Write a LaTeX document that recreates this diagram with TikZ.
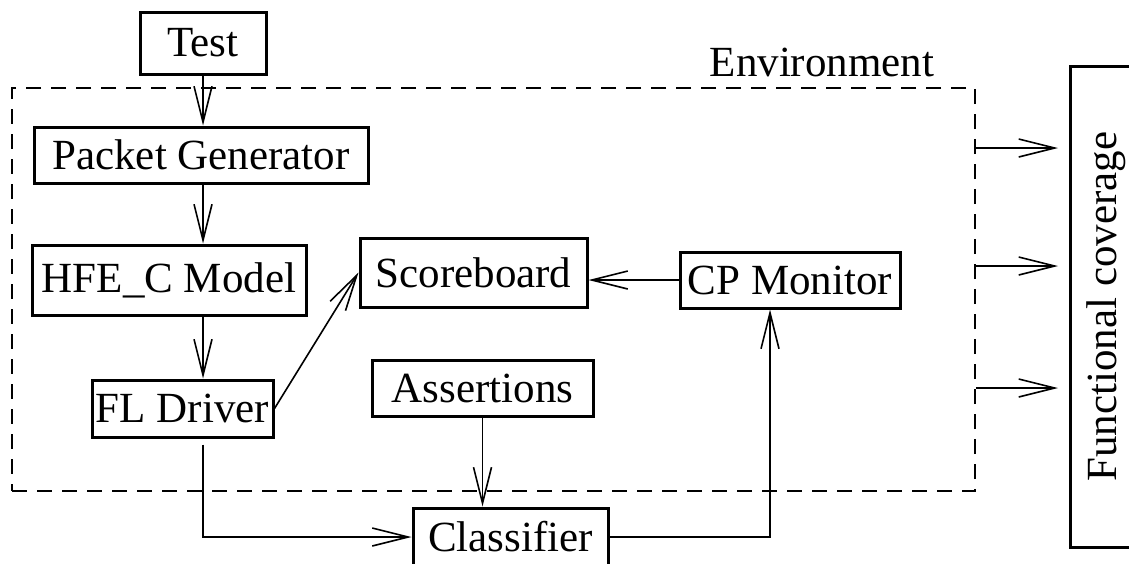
\documentclass[tikz,border=0pt]{standalone}
\usepackage{fontspec}
\setmainfont{Liberation Serif}
\usetikzlibrary{arrows.meta,calc}
\begin{document}
\begin{tikzpicture}[x=0.5pt,y=-0.5pt,
    block/.style={draw,line width=1.5pt,inner sep=0pt,font=\fontsize{21.5}{26}\selectfont},
    link/.style={line width=0.8pt,-{Straight Barb[length=18pt,width=9pt,line width=0.8pt]}}]
  \useasboundingbox (0,0) rectangle (1129,563);
  % environment frame
  \node[draw,dashed,line width=0.8pt,dash pattern=on 7.5pt off 5pt,inner sep=0pt,
    minimum width=481.5pt,minimum height=201.5pt] (env) at (493.5,289.5) {};
  \node[font=\fontsize{21.5}{26}\selectfont] (envlabel) at (822,62) {Environment};
  % blocks
  \draw
    (203,43) node[block,minimum width=63pt,minimum height=31pt] (test) {Test}
    (201,155) node[block,minimum width=167pt,minimum height=28pt] (packet) {Packet Generator}
    (169,280) node[block,minimum width=137pt,minimum height=35pt] (hfe) {HFE\_C Model}
    (182.5,408.5) node[block,minimum width=90.5pt,minimum height=28.5pt] (fld) {FL Driver}
    (473.5,272.5) node[block,minimum width=113.5pt,minimum height=34.5pt] (score) {Scoreboard}
    (790,280) node[block,minimum width=110pt,minimum height=28pt] (cpmon) {CP Monitor}
    (482.5,388) node[block,minimum width=110.5pt,minimum height=28pt] (assert) {Assertions}
    (510.5,537) node[block,minimum width=97.5pt,minimum height=29pt] (classifier) {Classifier};
  % coverage box, cut off by the right edge
  \node[rotate=90,font=\fontsize{21.5}{26}\selectfont] (funcov) at (1106,306.5) {Functional coverage};
  \coordinate (covin) at (1070,306.5);
  \draw[line width=1.5pt] (1300,66) -| (1070,547) -- (1300,547);
  \begin{scope}[link]
    \draw (test.south) to (test.south |- packet.north);
    \draw (packet.south -| test) to (hfe.north -| test);
    \draw (hfe.south -| test) to (fld.north -| test);
    \draw (fld.east) to (score.west);
    \draw (cpmon.west) to (cpmon.west -| score.east);
    \draw[shorten <=3pt] (fld.south -| test) |- (classifier.west);
    \draw (assert.south) to (assert.south |- classifier.north);
    \draw (classifier.east) -| ($(cpmon.south)+(-20,0)$);
    \foreach \y in {148,266,388}
      \draw[shorten >=6pt] (env.east |- 0,\y) to (covin |- 0,\y);
  \end{scope}
\end{tikzpicture}
\end{document}
